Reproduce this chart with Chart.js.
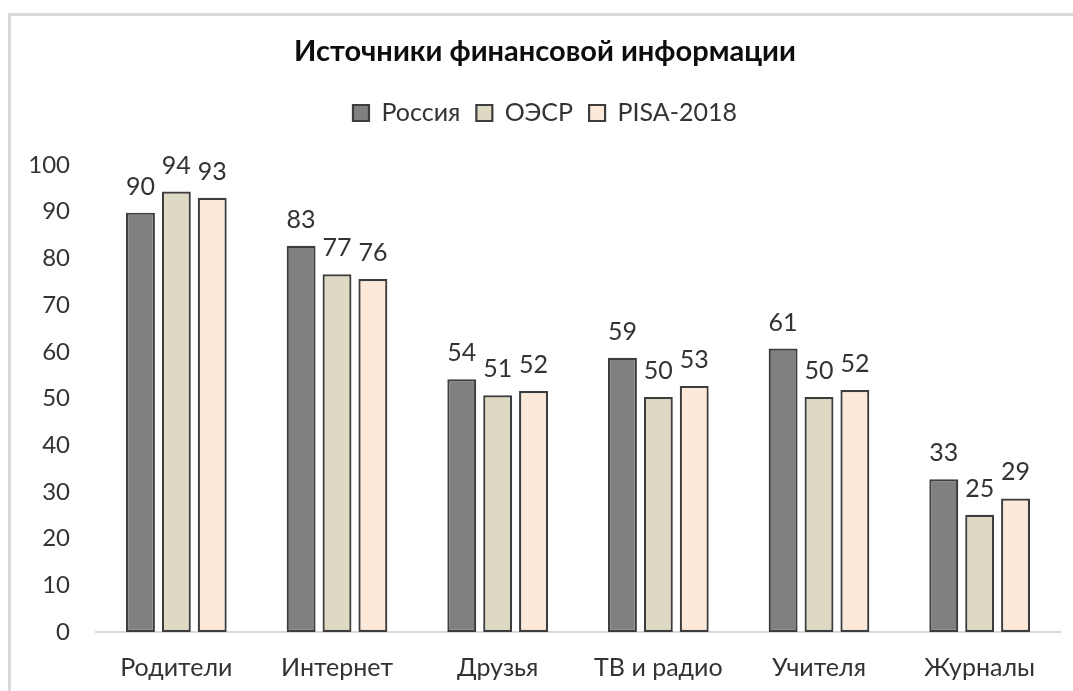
<!DOCTYPE html>
<html>
<head>
<meta charset="utf-8">
<script src="https://cdn.jsdelivr.net/npm/chart.js@4"></script>
<style>
  html, body { margin: 0; padding: 0; background: #fff; overflow: hidden; width: 1073px; height: 691px; }
  #frame { position: absolute; left: 8px; top: 13px; width: 1100px; height: 700px;
           border-left: 3px solid #d9d9d9; border-top: 3px solid #d9d9d9; }
  #c { position: absolute; left: 11px; top: 16px; }
</style>
</head>
<body>
<div id="frame"></div>
<canvas id="c" width="1068" height="675"></canvas>
<script>
const chartTitle = 'Источники финансовой информации';
const categories = ['Родители', 'Интернет', 'Друзья', 'ТВ и радио', 'Учителя', 'Журналы'];
const seriesNames = ['Россия', 'ОЭСР', 'PISA-2018'];
const russia = [89.8, 82.7, 54.1, 58.7, 60.7, 32.7];
const oecd = [94.3, 76.6, 50.7, 50.3, 50.3, 25.1];
const pisa = [93.0, 75.6, 51.6, 52.7, 51.8, 28.6];
const yMin = 0, yMax = 100, yStep = 10;

const fillColors = ['#808080', '#ddd9c3', '#fde9d9'];
const edgeColor = '#3d3d3d';
const textColor = '#333333';
const fontFamily = 'Lato, "Open Sans", sans-serif';

const valueLabels = {
  id: 'valueLabels',
  afterDatasetsDraw(chart) {
    const ctx = chart.ctx;
    ctx.save();
    ctx.font = '25px ' + fontFamily;
    ctx.fillStyle = textColor;
    ctx.textAlign = 'center';
    ctx.textBaseline = 'alphabetic';
    chart.data.datasets.forEach((ds, di) => {
      const meta = chart.getDatasetMeta(di);
      meta.data.forEach((bar, i) => {
        ctx.fillText(String(Math.round(ds.data[i])), bar.x, bar.y - 18);
      });
    });
    ctx.restore();
  }
};

const seriesData = [russia, oecd, pisa];
new Chart(document.getElementById('c'), {
  type: 'bar',
  data: {
    labels: categories,
    datasets: seriesNames.map((name, k) => ({
      label: name,
      data: seriesData[k],
      backgroundColor: fillColors[k],
      borderColor: edgeColor,
      borderWidth: 2.2,
      borderSkipped: false,
      categoryPercentage: 0.67,
      barPercentage: 0.806
    }))
  },
  options: {
    responsive: false,
    animation: false,
    devicePixelRatio: 1,
    layout: { padding: { left: 0, right: 0, top: 0, bottom: 0 } },
    plugins: {
      title: {
        display: true,
        text: chartTitle,
        color: '#0d0d0d',
        font: { family: fontFamily, size: 29, weight: 'bold', lineHeight: 1.2 },
        padding: { top: 18.6, bottom: 15.1 }
      },
      legend: {
        display: true,
        position: 'top',
        labels: {
          color: textColor,
          font: { family: fontFamily, size: 25 },
          boxWidth: 16,
          boxHeight: 16,
          padding: 16
        }
      },
      tooltip: { enabled: false }
    },
    scales: {
      x: {
        type: 'category',
        position: 'bottom',
        grid: { display: false, drawTicks: false },
        border: { display: true, color: '#d9d9d9', width: 2 },
        ticks: { color: textColor, font: { family: fontFamily, size: 25, lineHeight: 1.2 }, padding: 21, maxRotation: 0 },
        afterFit: s => { s.height = 59; }
      },
      xTop: {
        type: 'category',
        position: 'top',
        display: true,
        grid: { display: false, drawTicks: false },
        border: { display: false },
        ticks: { display: false },
        afterFit: s => { s.height = 29.5; }
      },
      y: {
        min: yMin,
        max: yMax,
        grid: { display: false, drawTicks: false },
        border: { display: false },
        ticks: { stepSize: yStep, color: textColor, font: { family: fontFamily, size: 24 }, padding: 26 },
        afterFit: s => { s.width = 85; }
      },
      yRight: {
        type: 'linear',
        position: 'right',
        display: true,
        min: yMin,
        max: yMax,
        grid: { display: false, drawTicks: false },
        border: { display: false },
        ticks: { display: false },
        afterFit: s => { s.width = 19; }
      }
    }
  },
  plugins: [valueLabels]
});
</script>
</body>
</html>
